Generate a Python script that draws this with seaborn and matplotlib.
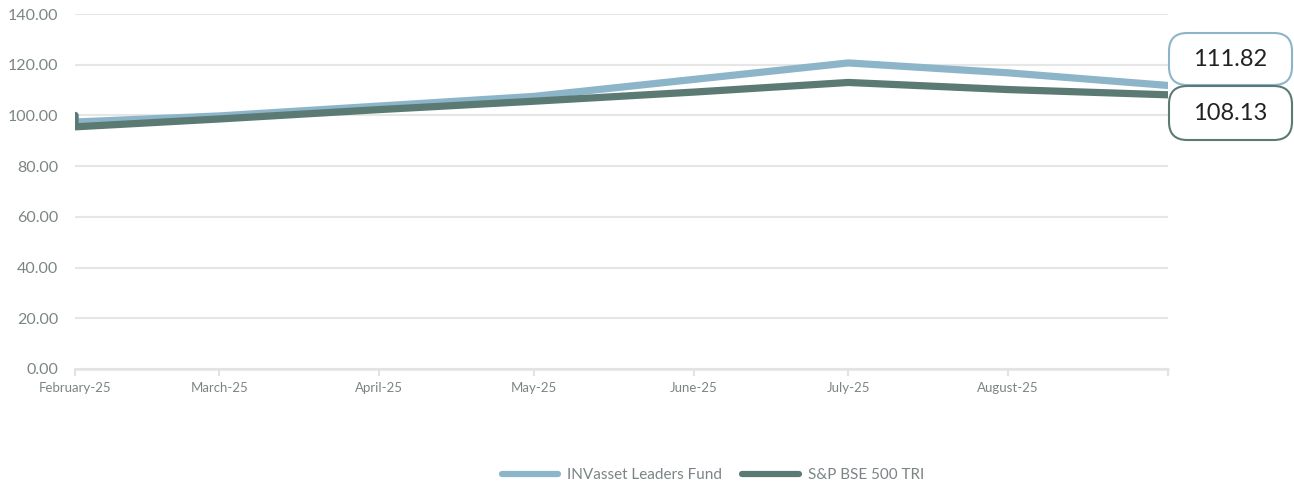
import numpy as np
import pandas as pd
import matplotlib
matplotlib.use("Agg")
import matplotlib.pyplot as plt
from matplotlib.patches import FancyBboxPatch
import seaborn as sns

# ---- data ----
dates = ["2025-02-01", "2025-02-01", "2025-03-01", "2025-04-01", "2025-05-01",
         "2025-06-01", "2025-07-01", "2025-08-01", "2025-09-01"]
fund_values = [100.0, 97.4, 99.8, 103.7, 107.5, 114.2, 120.7, 116.8, 111.82]
index_values = [100.0, 95.5, 98.6, 102.3, 105.6, 109.2, 113.0, 110.2, 108.13]
series_names = ["INVasset Leaders Fund", "S&P BSE 500 TRI"]
tick_dates = ["2025-02-01", "2025-03-01", "2025-04-01", "2025-05-01",
              "2025-06-01", "2025-07-01", "2025-08-01", "2025-09-01"]
tick_labels = ["February-25", "March-25", "April-25", "May-25",
               "June-25", "July-25", "August-25", ""]
y_ticks = [0, 20, 40, 60, 80, 100, 120, 140]
end_labels = ["111.82", "108.13"]

colors = {"INVasset Leaders Fund": "#8db5c9", "S&P BSE 500 TRI": "#5b7a74"}

df = pd.concat([
    pd.DataFrame({"date": pd.to_datetime(dates), "value": fund_values, "series": series_names[0]}),
    pd.DataFrame({"date": pd.to_datetime(dates), "value": index_values, "series": series_names[1]}),
], ignore_index=True)

sns.set_theme(style="white")
plt.rcParams["font.family"] = ["Lato", "DejaVu Sans"]

fig = plt.figure(figsize=(12.94, 4.87), dpi=100)
ax = fig.add_axes([75 / 1294, 1 - 369 / 487, (1168 - 75) / 1294, (369 - 14) / 487])

sns.lineplot(data=df, x="date", y="value", hue="series", palette=colors,
             estimator=None, sort=False, linewidth=5.2, ax=ax,
             solid_capstyle="round", solid_joinstyle="round")

ax.set_ylim(0, 140)
ax.set_xlim(pd.Timestamp("2025-02-01"), pd.Timestamp("2025-09-01"))
ax.set_yticks(y_ticks)
ax.set_yticklabels([f"{v:.2f}" for v in y_ticks], fontsize=11.5, color="#7b8585")
ax.set_xticks(pd.to_datetime(tick_dates))
ax.set_xticklabels(tick_labels, fontsize=9.5, color="#7b8585")
ax.set_xlabel("")
ax.set_ylabel("")

ax.grid(axis="y", color="#e6e6e6", linewidth=1.5)
ax.set_axisbelow(True)
for s in ["top", "right", "left"]:
    ax.spines[s].set_visible(False)
ax.spines["bottom"].set_color("#e3e3e3")
ax.spines["bottom"].set_linewidth(1.8)
ax.tick_params(axis="y", length=0, pad=12)
ax.tick_params(axis="x", length=5, width=1.5, color="#e3e3e3", pad=4, direction="out")
ax.xaxis.set_tick_params(bottom=True)

# legend
handles, labels = ax.get_legend_handles_labels()
ax.get_legend().remove()
leg = fig.legend(handles, labels, loc="center", bbox_to_anchor=(0.551, 1 - 475 / 487),
                 ncol=2, frameon=False, fontsize=11, handlelength=3.7,
                 handletextpad=0.6, columnspacing=1.3)
for t in leg.get_texts():
    t.set_color("#7b8585")
for h in leg.legend_handles:
    h.set_linewidth(4.5)
    h.set_solid_capstyle("round")

# end value boxes
box_specs = [
    (end_labels[0], colors[series_names[0]], 33, 85),
    (end_labels[1], colors[series_names[1]], 86, 140),
]
W, H = 1294, 487
for txt, col, ytop, ybot in box_specs:
    x0, x1 = 1169, 1292
    p = FancyBboxPatch((x0 / W, 1 - ybot / H), (x1 - x0) / W, (ybot - ytop) / H,
                       boxstyle="round,pad=0,rounding_size=0.014",
                       transform=fig.transFigure, facecolor="white", edgecolor=col,
                       linewidth=1.5, mutation_aspect=W / H)
    fig.patches.append(p)
    fig.text((x0 + x1) / 2 / W, 1 - (ytop + ybot) / 2 / H, txt, ha="center", va="center",
             fontsize=17, color="#222222")

fig.savefig("out.png", dpi=100)
